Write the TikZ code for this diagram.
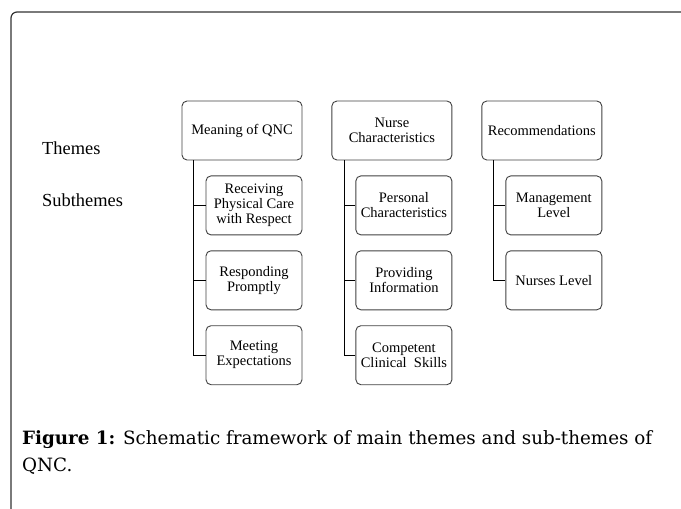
\documentclass[tikz,border=0pt]{standalone}
\usepackage{fontspec}
\setmainfont{Liberation Serif}
\newfontfamily\capfont{DejaVu Serif}
\usepackage{tikz}
\usetikzlibrary{positioning}

\begin{document}
\begin{tikzpicture}[
    x=1pt, y=-1pt,
    theme/.style={rectangle, draw=black!75, line width=0.9pt, rounded corners=5pt,
        minimum width=120pt, minimum height=59pt, align=center, inner sep=2pt,
        font=\fontsize{14.5}{15}\selectfont, text=black},
    subtheme/.style={theme, minimum width=96pt},
    label/.style={anchor=west, inner sep=0pt, font=\fontsize{18.4}{20}\selectfont},
    link/.style={draw=black, line width=0.8pt}
]
\useasboundingbox (0,0) rectangle (681,509);
% outer frame
\draw[black!80, line width=1.2pt, rounded corners=6pt] (11,520) -- (11,12) -- (690,12);

\node[label] (themes) at (42,148) {Themes};
\node[label] (subthemes) at (42,200) {Subthemes};

% themes
\node (meaning) [theme] at (242,130.5) {Meaning of QNC};
\node (nurse) [theme, right=29pt of meaning] {Nurse\\Characteristics};
\node (recom) [theme, right=29pt of nurse] {Recommendations};

% sub-themes
\node (receiving) [subtheme, below=15pt of meaning.south east, anchor=north east] {Receiving\\Physical Care\\with Respect};
\node (responding) [subtheme, below=15pt of receiving] {Responding\\Promptly};
\node (meeting) [subtheme, below=15pt of responding] {Meeting\\Expectations};

\node (personal) [subtheme, below=15pt of nurse.south east, anchor=north east] {Personal\\Characteristics};
\node (providing) [subtheme, below=15pt of personal] {Providing\\Information};
\node (competent) [subtheme, below=15pt of providing] {Competent\\Clinical~ Skills};

\node (management) [subtheme, below=15pt of recom.south east, anchor=north east] {Management\\Level};
\node (nurseslevel) [subtheme, below=15pt of management] {Nurses Level};

% connectors
\coordinate (m0) at ([xshift=12pt]meaning.south west);
\coordinate (n0) at ([xshift=13pt]nurse.south west);
\coordinate (r0) at ([xshift=12pt]recom.south west);
\foreach \s in {receiving,responding,meeting} \draw[link] (m0) |- (\s.west);
\foreach \s in {personal,providing,competent} \draw[link] (n0) |- (\s.west);
\foreach \s in {management,nurseslevel} \draw[link] (r0) |- (\s.west);

% caption
\node (caption) [anchor=base west, align=left, inner sep=0pt,
    font=\capfont\fontsize{18.3}{27}\selectfont] at (22,471)
    {\textbf{Figure 1:} Schematic framework of main themes and sub-themes of\\QNC.};
\end{tikzpicture}
\end{document}
